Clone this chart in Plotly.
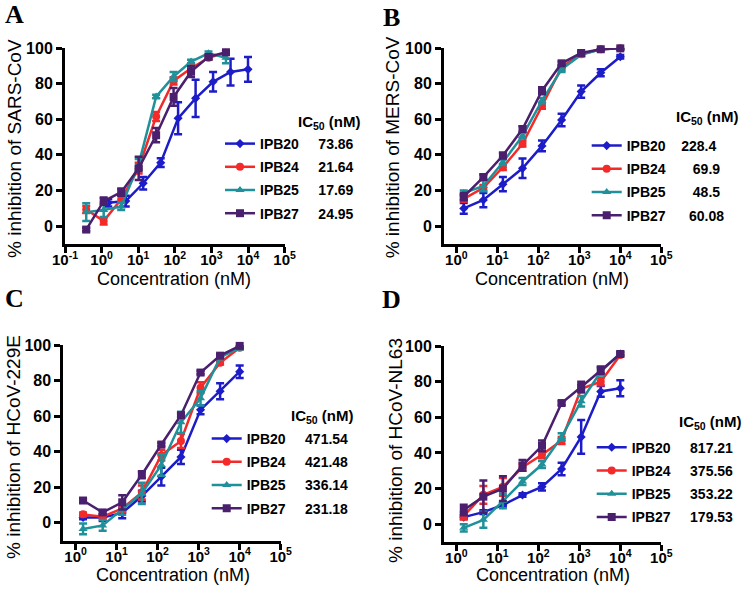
import plotly.graph_objects as go

W, H = 750, 592

# ---------------- data ----------------
series_names = ["IPB20", "IPB24", "IPB25", "IPB27"]
colors = ["#1c1cc8", "#f42a2a", "#20909a", "#4a1f6e"]
symbols = ["diamond", "circle", "triangle-up", "square"]
msizes = [7, 8, 8, 8]

# Panel A (SARS-CoV)
A_conc_ipb20 = [1.52, 4.57, 13.7, 41.2, 123, 370, 1111, 3333, 10000]
A_conc_other = [0.38, 1.14, 3.43, 10.3, 30.9, 92.6, 278, 833, 2500]
A_ipb20 = [13, 14, 24, 35.6, 60.5, 71.7, 81, 86.5, 88]
A_ipb20_err = [2, 3, 3.5, 2.5, 9, 10.5, 5.5, 7.5, 7]
A_ipb24 = [9.3, 2.8, 15, 32.5, 61.5, 81.5, 88.6, 94.5, 97.4]
A_ipb24_err = [2, 2, 2, 3, 2.5, 2, 2, 1, 1]
A_ipb25 = [7.8, 9, 11, 34.6, 72.7, 84, 92.4, 97, 94.5]
A_ipb25_err = [5, 4, 2, 3, 1, 2.5, 1, 1, 3]
A_ipb27 = [-2, 14, 19, 32.4, 51, 72.5, 86.7, 95, 97.6]
A_ipb27_err = [1, 2, 2, 6.5, 4, 5, 3, 1, 1]
A_ic50 = ["73.86", "21.64", "17.69", "24.95"]

# Panel B (MERS-CoV)
B_conc = [1.52, 4.57, 13.7, 41.2, 123, 370, 1111, 3333, 10000]
B_ipb20 = [9.9, 14.6, 23.5, 32.4, 45, 59.6, 75.5, 86.1, 95.1]
B_ipb20_err = [3, 4, 4, 5.5, 3, 3.5, 3.5, 2, 1]
B_ipb24 = [15.2, 21.5, 33, 46.2, 67.4, 89.2, 96.5, 99.3, 99.8]
B_ipb24_err = [1.5, 1.5, 1.5, 1.5, 1.5, 1, 1, 0.5, 0.5]
B_ipb25 = [18.5, 22.5, 35.8, 50.6, 70.4, 88, 96.2, 99.3, 99.8]
B_ipb25_err = [1.5, 3, 1.5, 1.5, 1.5, 1.5, 1, 0.5, 0.5]
B_ipb27 = [16.5, 27.5, 39.6, 54.5, 76, 91.4, 97.2, 99.3, 99.8]
B_ipb27_err = [2, 1.5, 1.5, 1.5, 2, 1, 1, 0.5, 0.5]
B_ic50 = ["228.4", "69.9", "48.5", "60.08"]

# Panel C (HCoV-229E)
C_conc = [1.52, 4.57, 13.7, 41.2, 123, 370, 1111, 3333, 10000]
C_ipb20 = [3, 3, 5.5, 15, 26, 37, 63.5, 74, 85]
C_ipb20_err = [1, 2, 3, 3, 5, 4, 2.5, 4.5, 3.5]
C_ipb24 = [4.7, 3.4, 8, 17, 38, 46, 76, 90, 98.5]
C_ipb24_err = [1, 1, 2, 4, 3, 4, 3, 1, 1]
C_ipb25 = [-3.5, -1.5, 7.5, 16.5, 32.5, 56.5, 70, 93, 98.5]
C_ipb25_err = [3, 3, 3, 6, 6, 6, 4, 1, 1]
C_ipb27 = [12.5, 5.8, 11.5, 27, 44, 60.5, 84.5, 94, 99.5]
C_ipb27_err = [1, 1, 4, 2, 1, 1, 1, 1, 1]
C_ic50 = ["471.54", "421.48", "336.14", "231.18"]

# Panel D (HCoV-NL63)
D_conc = [1.52, 4.57, 13.7, 41.2, 123, 370, 1111, 3333, 10000]
D_ipb20 = [4, 6.8, 10.8, 16.4, 21, 31, 49, 74.5, 76.3]
D_ipb20_err = [1, 1, 1, 1, 2, 3.5, 9.5, 3, 4.5]
D_ipb24 = [4.7, 16.5, 21, 32, 39, 47, 76, 80, 95]
D_ipb24_err = [2, 5, 5, 2, 2, 2, 2, 2, 1]
D_ipb25 = [-2, 2.5, 13, 24, 33.5, 49, 69, 85.5, 96]
D_ipb25_err = [2, 4.5, 4, 2, 2, 2, 3, 2, 1]
D_ipb27 = [8, 15.5, 20, 33, 44, 68, 77, 86.5, 95.5]
D_ipb27_err = [3, 9, 7, 3, 3, 1, 3, 2, 1]
D_ic50 = ["817.21", "375.56", "353.22", "179.53"]

y_titles = ["% inhibition of SARS-CoV", "% inhibition of MERS-CoV",
            "% inhibition of HCoV-229E", "% inhibition of HCoV-NL63"]
panel_letters = ["A", "B", "C", "D"]
x_tickvals = [0.1, 1, 10, 100, 1000, 10000, 100000]
x_ticktext = ["10<sup>-1</sup>", "10<sup>0</sup>", "10<sup>1</sup>", "10<sup>2</sup>",
              "10<sup>3</sup>", "10<sup>4</sup>", "10<sup>5</sup>"]
y_tickvals = [0, 20, 40, 60, 80, 100]

# ---------------- figure ----------------
FONT = "Liberation Sans, Arial, sans-serif"
fig = go.Figure()

panels = [
    dict(concs=[A_conc_ipb20, A_conc_other, A_conc_other, A_conc_other],
         ys=[A_ipb20, A_ipb24, A_ipb25, A_ipb27],
         errs=[A_ipb20_err, A_ipb24_err, A_ipb25_err, A_ipb27_err],
         ic50=A_ic50, pad=[5, 5, 5, 5]),
    dict(concs=[B_conc] * 4,
         ys=[B_ipb20, B_ipb24, B_ipb25, B_ipb27],
         errs=[B_ipb20_err, B_ipb24_err, B_ipb25_err, B_ipb27_err],
         ic50=B_ic50, pad=[4, 7, 7, 6]),
    dict(concs=[C_conc] * 4,
         ys=[C_ipb20, C_ipb24, C_ipb25, C_ipb27],
         errs=[C_ipb20_err, C_ipb24_err, C_ipb25_err, C_ipb27_err],
         ic50=C_ic50, pad=[5, 5, 5, 5]),
    dict(concs=[D_conc] * 4,
         ys=[D_ipb20, D_ipb24, D_ipb25, D_ipb27],
         errs=[D_ipb20_err, D_ipb24_err, D_ipb25_err, D_ipb27_err],
         ic50=D_ic50, pad=[5, 5, 5, 5]),
]

legend_ids = ["legend", "legend2", "legend3", "legend4"]
NB = "\u00a0"
for p, panel in enumerate(panels):
    sfx = "" if p == 0 else str(p + 1)
    for i in range(4):
        fig.add_trace(go.Scatter(
            x=panel["concs"][i], y=panel["ys"][i],
            mode="lines+markers",
            name=series_names[i] + NB * panel["pad"][i] + panel["ic50"][i],
            legend=legend_ids[p], legendgroup=f"p{p}s{i}",
            line=dict(color=colors[i], width=2.5),
            marker=dict(symbol=symbols[i], size=msizes[i], color=colors[i],
                        line=dict(width=0)),
            error_y=dict(type="data", array=panel["errs"][i], visible=True,
                         color=colors[i], thickness=2.5, width=4),
            cliponaxis=False,
            xaxis="x" + sfx, yaxis="y" + sfx,
        ))

def px_dom_x(a, b):
    return [a / W, b / W]

def px_dom_y(top, bottom):
    return [1 - bottom / H, 1 - top / H]

dom = [
    (px_dom_x(65, 284.6), px_dom_y(48, 243.8), [-1, 5]),
    (px_dom_x(444, 661.3), px_dom_y(48, 243.8), [-0.3, 5]),
    (px_dom_x(63.3, 280.7), px_dom_y(345, 540.5), [-0.3, 5]),
    (px_dom_x(444, 661.3), px_dom_y(346, 542.1), [-0.3, 5]),
]

axis_common = dict(showline=True, linewidth=3, linecolor="black",
                   ticks="outside", ticklen=6, tickwidth=3, tickcolor="black",
                   showgrid=False, zeroline=False, automargin=False,
                   tickfont=dict(family=FONT, size=16, color="black", weight="bold"))

layout = dict(width=W, height=H, margin=dict(l=0, r=0, t=0, b=0, autoexpand=False),
              paper_bgcolor="white", plot_bgcolor="white")
for p in range(4):
    sfx = "" if p == 0 else str(p + 1)
    xd, yd, xr = dom[p]
    layout["xaxis" + sfx] = dict(axis_common, type="log", domain=xd, range=xr,
                                 tickvals=x_tickvals, ticktext=x_ticktext,
                                 ticklabelstandoff=-6, anchor="y" + sfx,
                                 tickfont=dict(family=FONT, size=15, color="black",
                                               weight="bold"))
    layout["yaxis" + sfx] = dict(axis_common, domain=yd, range=[-10, 100],
                                 tickvals=y_tickvals, anchor="x" + sfx)

# legends: (line start px, top px)
leg_pos = [(220, 128), (586.7, 130), (206.7, 423), (591.7, 431.7)]
for p in range(4):
    lx, ly = leg_pos[p]
    layout[legend_ids[p]] = dict(
        x=lx / W, y=1 - ly / H, xanchor="left", yanchor="top",
        bgcolor="rgba(0,0,0,0)", borderwidth=0,
        font=dict(family=FONT, size=14, color="black", weight="bold"),
        tracegroupgap=2, traceorder="grouped")

fig.update_layout(**layout)

ann = []
# legend titles
for (cx, cy) in [(329.7, 122.7), (707.5, 117.3), (322.5, 416), (710.8, 422.7)]:
    ann.append(dict(x=cx / W, y=1 - cy / H, xref="paper", yref="paper",
                    text="IC<sub>50</sub> (nM)", showarrow=False,
                    xanchor="center", yanchor="middle",
                    font=dict(family=FONT, size=15, color="black", weight="bold")))
# x titles
for (cx, cy) in [(174, 278.5), (551.7, 278.5), (172.5, 574.5), (552.5, 575)]:
    ann.append(dict(x=cx / W, y=1 - cy / H, xref="paper", yref="paper",
                    text="Concentration (nM)", showarrow=False,
                    xanchor="center", yanchor="middle",
                    font=dict(family=FONT, size=18, color="black")))
# y titles
for t, (cx, cy) in zip(y_titles, [(14, 149), (393.3, 147), (13.3, 446.7), (395, 450)]):
    ann.append(dict(x=cx / W, y=1 - cy / H, xref="paper", yref="paper",
                    text=t, showarrow=False, textangle=-90,
                    xanchor="center", yanchor="middle",
                    font=dict(family=FONT, size=19, color="black")))
# panel letters
for t, (cx, cy) in zip(panel_letters, [(14, 15), (391, 17), (14, 298), (392, 299)]):
    ann.append(dict(x=cx / W, y=1 - cy / H, xref="paper", yref="paper",
                    text=t, showarrow=False, xanchor="center", yanchor="middle",
                    font=dict(family="Liberation Serif, Times New Roman, serif",
                              size=26, color="black", weight="bold")))
fig.update_layout(annotations=ann)

fig.write_html("out.html", config={"displayModeBar": False},
               post_script="document.body.style.margin='0px';document.body.style.overflow='hidden';")
